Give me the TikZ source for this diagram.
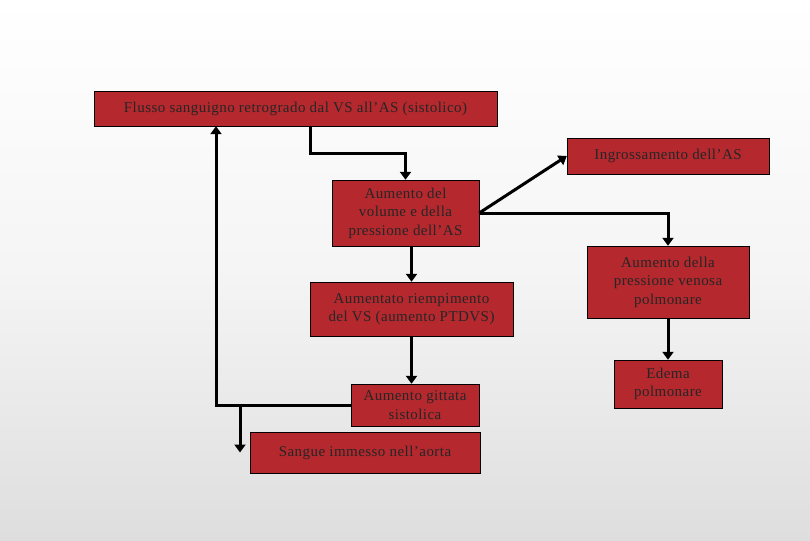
\documentclass[tikz,border=0pt]{standalone}
\usepackage{fontspec}
\setmainfont[LetterSpace=3]{Liberation Serif}
\usetikzlibrary{arrows.meta}
\definecolor{boxred}{RGB}{180,40,46}
\tikzset{
  box/.style={draw=black, fill=boxred, inner sep=0pt, align=center,
    font=\fontsize{15}{18.5}\selectfont, text=black!85},
  arr/.style={line width=3pt, -{Triangle[width=11pt,length=8pt]}}
}
\begin{document}
\begin{tikzpicture}[x=1pt,y=-1pt]
\shade[top color=white, bottom color=black!13, middle color=white!96!black]
  (0,0) rectangle (810,540);
\useasboundingbox (0,0) rectangle (810,540);
% boxes
\node[box, minimum width=403pt, minimum height=35pt] (flusso) at (295.5,108.5)
  {Flusso sanguigno retrogrado dal VS all'AS (sistolico)};
\node[box, minimum width=202pt, minimum height=36pt] (ingross) at (668,156)
  {Ingrossamento dell'AS};
\node[box, minimum width=147pt, minimum height=66pt] (volume) at (405.5,213)
  {Aumento del\\volume e della\\pressione dell'AS};
\node[box, minimum width=203pt, minimum height=54pt] (riemp) at (411.5,309)
  {Aumentato riempimento\\del VS (aumento PTDVS)};
\node[box, minimum width=162pt, minimum height=72pt] (venosa) at (668,282)
  {Aumento della\\pressione venosa\\polmonare};
\node[box, minimum width=128pt, minimum height=42pt] (gittata) at (415,405)
  {Aumento gittata\\sistolica};
\node[box, minimum width=230pt, minimum height=41pt] (aorta) at (365,452.5)
  {Sangue immesso nell'aorta};
\node[box, minimum width=108pt, minimum height=48pt] (edema) at (668,384)
  {Edema\\polmonare};
\coordinate (split) at (240,405);
% connectors
\draw[arr] ([xshift=14.5pt]flusso.south) -- ++(0,27) -| (volume.north);
\draw[arr] (volume.east) -- (ingross.west);
\draw[arr] (volume.east) -| (venosa.north);
\draw[arr] (volume.south -| riemp.north) -- (riemp.north);
\draw[arr] (riemp.south) -- (riemp.south |- gittata.north);
\draw[arr] (gittata.west) -| ([xshift=-79.5pt]flusso.south);
\draw[arr] (split) -- (split |- aorta.center);
\draw[arr] (venosa.south) -- (edema.north);
\end{tikzpicture}
\end{document}
